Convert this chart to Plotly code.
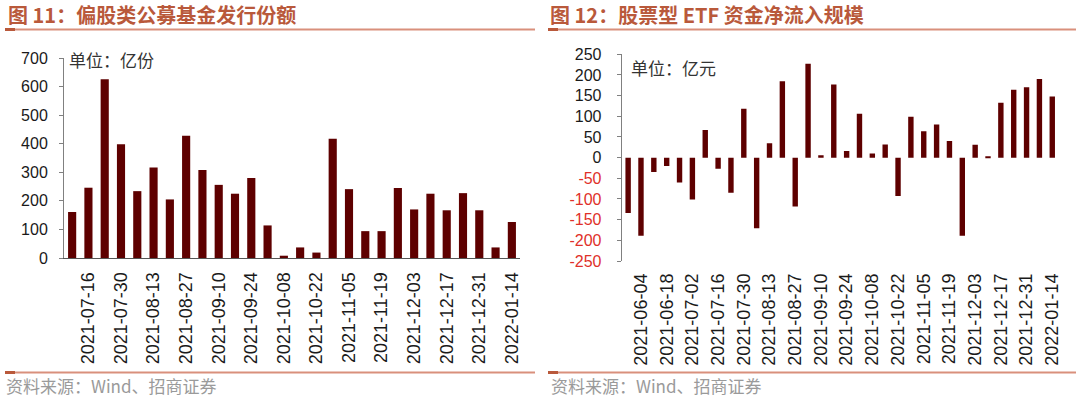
import plotly.graph_objects as go

# ---------------- data ----------------
dates_left = ["2021-07-09", "2021-07-16", "2021-07-23", "2021-07-30", "2021-08-06", "2021-08-13",
              "2021-08-20", "2021-08-27", "2021-09-03", "2021-09-10", "2021-09-17", "2021-09-24",
              "2021-10-01", "2021-10-08", "2021-10-15", "2021-10-22", "2021-10-29", "2021-11-05",
              "2021-11-12", "2021-11-19", "2021-11-26", "2021-12-03", "2021-12-10", "2021-12-17",
              "2021-12-24", "2021-12-31", "2022-01-07", "2022-01-14"]
issue_values = [161, 246, 626, 398, 234, 317, 205, 428, 308, 256, 225, 280, 114, 8,
                37, 19, 417, 241, 94, 94, 245, 170, 225, 167, 227, 167, 37, 126]

dates_right = ["2021-05-28", "2021-06-04", "2021-06-11", "2021-06-18", "2021-06-25", "2021-07-02",
               "2021-07-09", "2021-07-16", "2021-07-23", "2021-07-30", "2021-08-06", "2021-08-13",
               "2021-08-20", "2021-08-27", "2021-09-03", "2021-09-10", "2021-09-17", "2021-09-24",
               "2021-10-01", "2021-10-08", "2021-10-15", "2021-10-22", "2021-10-29", "2021-11-05",
               "2021-11-12", "2021-11-19", "2021-11-26", "2021-12-03", "2021-12-10", "2021-12-17",
               "2021-12-24", "2021-12-31", "2022-01-07", "2022-01-14"]
etf_flows = [-134, -189, -35, -20, -60, -101, 67, -27, -85, 118, -171, 35, 185, -118, 227, 6,
             177, 16, 106, 10, 32, -93, 99, 64, 80, 40, -189, 31, 2, 133, 164, 170, 190, 148]

left_ticks = dates_left[1::2]
right_ticks = dates_right[1::2]
left_y_ticks = list(range(0, 701, 100))
right_y_ticks = list(range(-250, 251, 50))

title_left = "图 11：偏股类公募基金发行份额"
title_right = "图 12：股票型 ETF 资金净流入规模"
unit_left = "单位：亿份"
unit_right = "单位：亿元"
source_text = "资料来源：Wind、招商证券"

# ---------------- styling ----------------
W, H = 1080, 398
BAR = "#5e0000"
TITLE_C = "#b9593b"
RULE_C = "#d9907c"
LAT = "Liberation Sans, Arial, sans-serif"
CJK = "Noto Sans CJK SC, sans-serif"
NEG = "#e0302a"


def px(x):
    return x / W


def py(y):
    return 1 - y / H


ldom_x = [px(64), px(520)]
ldom_y = [py(258), py(58)]
rdom_x = [px(621.7), px(1058.7)]
rdom_y = [py(261), py(54.3)]
zero_pos = rdom_y[0] + (0 - right_y_ticks[0]) / (right_y_ticks[-1] - right_y_ticks[0]) * (rdom_y[1] - rdom_y[0])

right_ticktext = [
    (f"<span style='color:{NEG}'>{v}</span>" if v < 0 else str(v)) for v in right_y_ticks
]

fig = go.Figure()
fig.add_trace(go.Bar(x=dates_left, y=issue_values, xaxis="x", yaxis="y",
                     marker=dict(color=BAR, line=dict(width=0)), width=0.5,
                     showlegend=False))
fig.add_trace(go.Bar(x=dates_right, y=etf_flows, xaxis="x2", yaxis="y2",
                     marker=dict(color=BAR, line=dict(width=0)), width=0.42,
                     showlegend=False))

fig.update_layout(
    width=W, height=H,
    margin=dict(l=0, r=0, t=0, b=0, autoexpand=False),
    paper_bgcolor="white", plot_bgcolor="white",
    font=dict(family=LAT, color="#1a1a1a"),
    xaxis=dict(domain=ldom_x, anchor="y", type="category", automargin=False,
               categoryorder="array", categoryarray=dates_left,
               range=[-0.5, len(dates_left) - 0.5],
               tickmode="array", tickvals=left_ticks, ticktext=left_ticks,
               tickangle=-90, tickfont=dict(size=18, family=LAT, color="#1a1a1a"),
               ticklabelstandoff=6,
               showline=True, linecolor="#555555", linewidth=1,
               ticks="", showgrid=False, zeroline=False),
    yaxis=dict(domain=ldom_y, anchor="x", range=[0, 700], automargin=False,
               tickmode="array", tickvals=left_y_ticks,
               tickfont=dict(size=16, family=LAT, color="#1a1a1a"),
               ticklabelstandoff=8,
               ticks="outside", ticklen=4, tickcolor="#808080",
               showline=True, linecolor="#808080", linewidth=1,
               showgrid=False, zeroline=False),
    xaxis2=dict(domain=rdom_x, anchor="y2", type="category", automargin=False,
                categoryorder="array", categoryarray=dates_right,
                range=[-0.5, len(dates_right) - 0.5],
                tickmode="array", tickvals=right_ticks, ticktext=right_ticks,
                tickangle=-90, tickfont=dict(size=18, family=LAT, color="#1a1a1a"),
                ticklabelstandoff=8,
                showline=False, ticks="", showgrid=False, zeroline=False),
    xaxis3=dict(domain=rdom_x, overlaying="x2", anchor="free", position=zero_pos,
                type="linear", range=[-0.5, len(dates_right) - 0.5], automargin=False,
                tickmode="linear", tick0=-0.5, dtick=1,
                ticks="outside", ticklen=4, tickcolor="#404040",
                showline=True, linecolor="#404040", linewidth=1,
                showticklabels=False, showgrid=False, zeroline=False),
    yaxis2=dict(domain=rdom_y, anchor="x2", range=[right_y_ticks[0], right_y_ticks[-1]],
                automargin=False,
                tickmode="array", tickvals=right_y_ticks, ticktext=right_ticktext,
                tickfont=dict(size=16, family=LAT, color="#1a1a1a"),
                ticklabelstandoff=12,
                ticks="outside", ticklen=4, tickcolor="#808080",
                showline=True, linecolor="#808080", linewidth=1,
                showgrid=False, zeroline=False),
    bargap=0.5,
)

annos = [
    dict(text=f"<b>{title_left}</b>", x=px(6), y=py(14), font=dict(size=20, family=CJK, color=TITLE_C)),
    dict(text=f"<b>{title_right}</b>", x=px(548), y=py(14), font=dict(size=20, family=CJK, color=TITLE_C)),
    dict(text=unit_left, x=px(67), y=py(59), font=dict(size=17, family=CJK, color="#333333")),
    dict(text=unit_right, x=px(629), y=py(67), font=dict(size=17, family=CJK, color="#333333")),
    dict(text=source_text, x=px(4), y=py(385), font=dict(size=17, family=CJK, color="#9a9a9a")),
    dict(text=source_text, x=px(549), y=py(385), font=dict(size=17, family=CJK, color="#9a9a9a")),
]
for a in annos:
    fig.add_annotation(xref="paper", yref="paper", xanchor="left", yanchor="middle",
                       showarrow=False, **a)

for x0, x1 in [(5, 535), (548, 1076)]:
    for yy in (29.5, 372.5):
        fig.add_shape(type="line", xref="paper", yref="paper", x0=px(x0), x1=px(x1),
                      y0=py(yy), y1=py(yy), line=dict(color=RULE_C, width=2))
        fig.add_shape(type="line", xref="paper", yref="paper", x0=px(x0), x1=px(x0 + 10),
                      y0=py(yy), y1=py(yy), line=dict(color="#b9593b", width=3))

fig.write_html("out.html", config={"displayModeBar": False},
               post_script="document.body.style.margin='0';document.body.style.overflow='hidden';")
